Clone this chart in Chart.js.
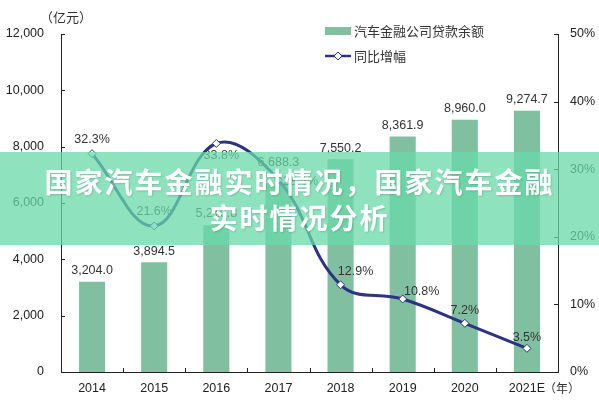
<!DOCTYPE html>
<html>
<head>
<meta charset="utf-8">
<script src="https://cdn.jsdelivr.net/npm/chart.js@4.4.1/dist/chart.umd.min.js"></script>
<style>
  html, body { margin: 0; padding: 0; background: #fff; }
  #wrap { position: relative; width: 599px; height: 400px; }
  #banner {
    position: absolute; left: 0; top: 152px; width: 599px; height: 93px;
    background: rgba(104, 217, 168, 0.75);
    box-sizing: border-box; padding-top: 11px;
    color: #fff; text-align: center;
    font-family: "Noto Sans CJK SC", sans-serif; font-weight: bold;
    font-size: 28px; line-height: 36px; letter-spacing: 2px;
    text-shadow: 1px 1px 2px rgba(0,0,0,0.15);
  }
</style>
</head>
<body>
<div id="wrap">
  <canvas id="loanChart" width="599" height="400"></canvas>
  <div id="banner">国家汽车金融实时情况，国家汽车金融<br>实时情况分析</div>
</div>
<script>
// dados
const years = ['2014', '2015', '2016', '2017', '2018', '2019', '2020', '2021E'];
const loanBalance = [3204.0, 3894.5, 5210.8, 6688.3, 7550.2, 8361.9, 8960.0, 9274.7];
const yoyGrowth = [32.3, 21.6, 33.8, 28.4, 12.9, 10.8, 7.2, 3.5];
const leftTicks = [0, 2000, 4000, 6000, 8000, 10000, 12000];
const rightTicks = [0, 10, 20, 30, 40, 50];

const barColor = '#80C0A0';
const lineColor = '#2D3382';
const cjkFont = '"Noto Sans CJK SC", sans-serif';
const numFont = '"Liberation Sans", Arial, sans-serif';

// deslocamento dos rótulos da linha (dx, dy) em relação ao ponto
const lineLabelShift = [[0, -14], [0, -14], [5, 12], [22, 2], [15, -13], [19, -7], [0, -13], [0, -11]];
// elevação extra dos rótulos das barras
const barLabelLift = [0, 0, 0, 10, 0, 0, 0, 0];

function fmt(v) {
    return v.toLocaleString('en-US', { minimumFractionDigits: 1, maximumFractionDigits: 1 });
}

const decorPlugin = {
    id: 'decor',
    afterDatasetsDraw(chart) {
        const ctx = chart.ctx;
        const area = chart.chartArea;
        const x = chart.scales.x, yl = chart.scales.y, yr = chart.scales.y1;
        ctx.save();
        ctx.strokeStyle = '#222';
        ctx.lineWidth = 1;
        // marcas internas dos eixos
        leftTicks.forEach(v => {
            const py = Math.round(yl.getPixelForValue(v)) + 0.5;
            ctx.beginPath(); ctx.moveTo(area.left, py); ctx.lineTo(area.left + 4, py); ctx.stroke();
        });
        rightTicks.forEach(v => {
            const py = Math.round(yr.getPixelForValue(v)) + 0.5;
            ctx.beginPath(); ctx.moveTo(area.right - 4, py); ctx.lineTo(area.right, py); ctx.stroke();
        });
        for (let i = 1; i < years.length; i++) {
            const px = Math.round((x.getPixelForValue(i - 1) + x.getPixelForValue(i)) / 2) + 0.5;
            ctx.beginPath(); ctx.moveTo(px, area.bottom); ctx.lineTo(px, area.bottom - 4); ctx.stroke();
        }

        // rótulos das barras
        ctx.fillStyle = '#333';
        ctx.font = '12.5px ' + numFont;
        ctx.textAlign = 'center';
        ctx.textBaseline = 'bottom';
        chart.getDatasetMeta(0).data.forEach((bar, i) => {
            ctx.fillText(fmt(loanBalance[i]), bar.x, bar.y - 5 - barLabelLift[i]);
        });
        // rótulos da linha
        ctx.textBaseline = 'middle';
        chart.getDatasetMeta(1).data.forEach((pt, i) => {
            const s = lineLabelShift[i];
            ctx.fillText(yoyGrowth[i].toFixed(1) + '%', pt.x + s[0], pt.y + s[1]);
        });

        // unidades
        ctx.font = '13px ' + cjkFont;
        ctx.textAlign = 'left';
        ctx.fillText('（亿元）', 40, 17);
        ctx.font = '12px ' + cjkFont;
        ctx.fillText('（年）', 544, 388);

        // legenda
        ctx.fillStyle = barColor;
        ctx.fillRect(325, 27, 26, 8);
        ctx.strokeStyle = lineColor;
        ctx.lineWidth = 2.5;
        ctx.beginPath(); ctx.moveTo(325, 56); ctx.lineTo(351, 56); ctx.stroke();
        ctx.fillStyle = '#fff';
        ctx.strokeStyle = lineColor;
        ctx.lineWidth = 1;
        ctx.beginPath();
        ctx.moveTo(338, 52); ctx.lineTo(342, 56); ctx.lineTo(338, 60); ctx.lineTo(334, 56); ctx.closePath();
        ctx.fill(); ctx.stroke();
        ctx.fillStyle = '#333';
        ctx.font = '13px ' + cjkFont;
        ctx.fillText(chart.data.datasets[0].label, 354, 31);
        ctx.fillText(chart.data.datasets[1].label, 354, 56);
        ctx.restore();
    }
};

new Chart(document.getElementById('loanChart'), {
    type: 'bar',
    data: {
        labels: years,
        datasets: [{
            type: 'bar',
            label: '汽车金融公司贷款余额',
            data: loanBalance,
            backgroundColor: barColor,
            barPercentage: 0.42,
            categoryPercentage: 1,
            yAxisID: 'y',
            order: 2
        }, {
            type: 'line',
            label: '同比增幅',
            data: yoyGrowth,
            borderColor: lineColor,
            borderWidth: 3,
            tension: 0.4,
            pointStyle: 'rectRot',
            pointRadius: 4,
            pointBackgroundColor: '#fff',
            pointBorderColor: lineColor,
            pointBorderWidth: 1,
            yAxisID: 'y1',
            order: 1
        }]
    },
    options: {
        responsive: false,
        animation: false,
        layout: { padding: { top: 34, left: 0, right: 0, bottom: 0 } },
        plugins: { legend: { display: false }, tooltip: { enabled: false } },
        scales: {
            x: {
                grid: { display: false, drawTicks: false },
                border: { display: true, color: '#222' },
                ticks: { color: '#222', font: { family: numFont, size: 12.5 }, padding: 9 },
                afterFit(s) { s.height = 28; }
            },
            y: {
                position: 'left',
                min: 0, max: 12000,
                grid: { display: false, drawTicks: false },
                border: { display: true, color: '#222' },
                ticks: {
                    stepSize: 2000, color: '#222', padding: 17,
                    font: { family: numFont, size: 12.5 },
                    callback: v => v.toLocaleString('en-US')
                },
                afterFit(s) { s.width = 61; }
            },
            y1: {
                position: 'right',
                min: 0, max: 50,
                grid: { display: false, drawTicks: false },
                border: { display: true, color: '#222' },
                ticks: {
                    stepSize: 10, color: '#222', padding: 12,
                    font: { family: numFont, size: 12.5 },
                    callback: v => v + '%'
                },
                afterFit(s) { s.width = 41; }
            }
        }
    },
    plugins: [decorPlugin]
});
</script>
</body>
</html>
